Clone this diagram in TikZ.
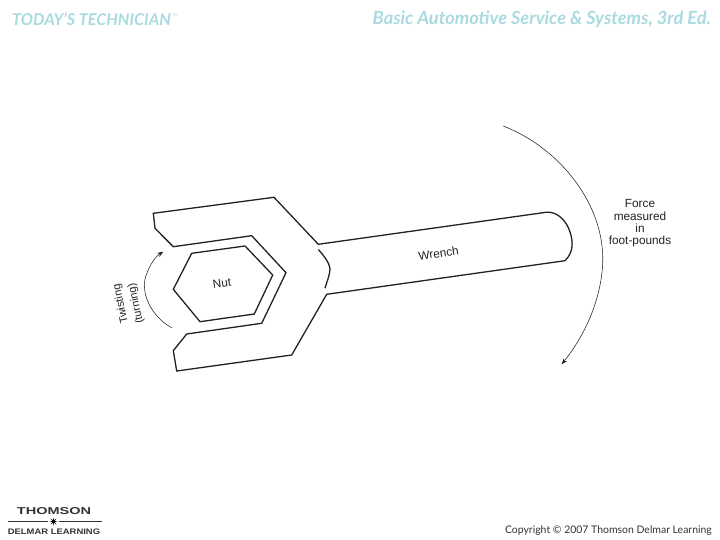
\documentclass[tikz,border=0pt]{standalone}
\usepackage{fontspec}
\setmainfont{Liberation Sans}
\newfontfamily\brandfont{Lato}
\usetikzlibrary{arrows.meta,shapes.geometric}
\definecolor{hdr}{HTML}{A9DADF}
\definecolor{ink}{HTML}{222222}
\tikzset{
  outline/.style={draw=ink,line width=1.3pt,line join=miter},
  thin arrow/.style={draw=ink,line width=0.55pt,-{Stealth[length=6pt,width=4.5pt]}},
  label/.style={inner sep=0pt,align=center,text=ink,font=\fontsize{11.8}{12.3}\selectfont},
  rotlabel/.style={inner sep=0pt,text=ink,font=\fontsize{11}{12}\selectfont,rotate=102},
  header/.style={inner sep=0pt,text=hdr},
  logo/.style={inner sep=0pt,text=black!80,transform shape},
}
\begin{document}
\begin{tikzpicture}[x=1pt,y=-1pt]
\useasboundingbox (0,0) rectangle (720,540);
% wrench
\draw[outline] (153.3,213.3) -- (274,197.3) -- (318.3,244.3) -- (546,212.3)
  .. controls (558,211) and (567,222) .. (570,232)
  .. controls (573,241) and (574,252) .. (565,260.7)
  -- (326.7,294.3) -- (291.7,355) -- (176.7,371) -- (173.3,350.7)
  -- (186.7,334) -- (261.7,323.3) -- (286,272.7) -- (251.7,235.7) -- (173.3,246.7)
  -- (155,228.3) -- cycle;
\draw[outline] (318.3,249.5) .. controls (324,256) and (329,262) .. (330,268.3)
  .. controls (330,275) and (327,281) .. (325,288.3);
% nut
\draw[outline] (191.7,253.3) -- (245,246) -- (272.7,275) -- (254.3,314) -- (200,321.7) -- (173.3,289.3) -- cycle;
% arrows
\coordinate (twistA) at (171.7,327.7);
\coordinate (twistB) at (163.3,251.7);
\coordinate (forceA) at (503.3,126);
\coordinate (forceB) at (561.7,364.3);
\draw[thin arrow] (twistA) .. controls (150,316) and (139,290) .. (147,273) .. controls (150,265) and (155,257) .. (twistB);
\draw[thin arrow] (forceA) .. controls (560,148) and (605,205) .. (602.7,263.3) .. controls (601,300) and (585,335) .. (forceB);
% labels
\node[label,rotate=8] (nut) at (222,283) {Nut};
\node[label,rotate=8] (wrench) at (438.5,253.5) {Wrench};
\node[rotlabel] (twist) at (121,304) {Twisting};
\node[rotlabel] (turn) at (136,303.5) {(turning)};
\node[label] (force) at (640,223.5) {Force\\measured\\in\\foot-pounds};
% header
\node[header,anchor=west,font=\brandfont\bfseries\itshape\fontsize{16.2}{17}\selectfont] (today) at (12,19) {TODAY’S TECHNICIAN};
\node[header,anchor=west,font=\fontsize{4}{4}\selectfont] (tm) at (172,15.5) {TM};
\node[header,anchor=east,font=\brandfont\bfseries\itshape\fontsize{18.2}{19}\selectfont] (book) at (711,19) {Basic Automotive Service \& Systems, 3rd Ed.};
% footer
\node[logo,xscale=1.45,font=\bfseries\fontsize{10}{11}\selectfont] (thomson) at (54,511) {THOMSON};
\node[logo,xscale=1.18,font=\bfseries\fontsize{8}{9}\selectfont] (delmar) at (54,532) {DELMAR LEARNING};
\node[star,star points=8,star point ratio=3,fill=black,inner sep=0pt,minimum size=8pt] (logostar) at (53.5,521.5) {};
\coordinate (ruleL) at (8,521.5);
\coordinate (ruleR) at (102,521.5);
\draw[line width=0.5pt,black!80] (ruleL) -- (logostar) -- (ruleR);
\node[inner sep=0pt,text=black!80,font=\brandfont\fontsize{10.45}{12}\selectfont,anchor=east] (copy) at (712,531) {Copyright © 2007 Thomson Delmar Learning};
\end{tikzpicture}
\end{document}
